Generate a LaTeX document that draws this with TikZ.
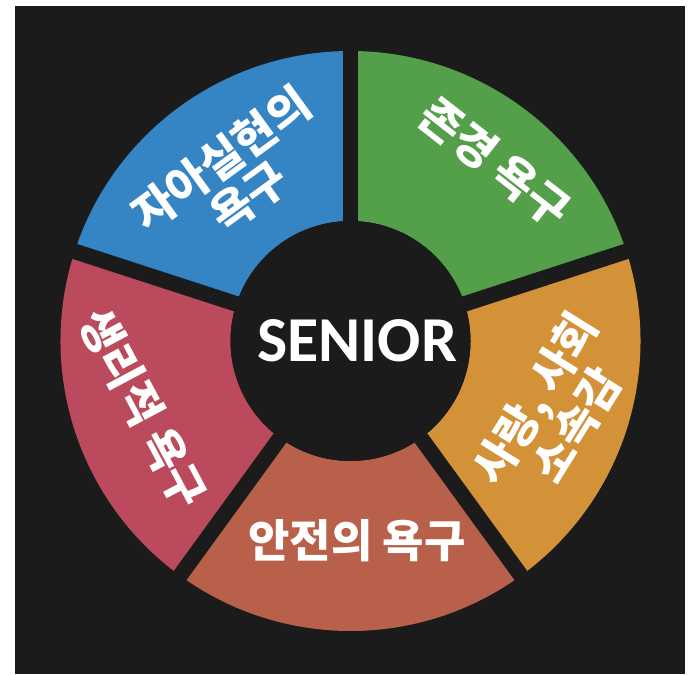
\documentclass[tikz,border=0pt]{standalone}
\usepackage{fontspec}
\newfontfamily\kofont{Noto Sans CJK KR}
\newfontfamily\latfont{Carlito}
\definecolor{fondo}{HTML}{1B1B1B}
\definecolor{segblue}{HTML}{3584C3}
\definecolor{seggreen}{HTML}{54A04A}
\definecolor{segorange}{HTML}{D39138}
\definecolor{segbrown}{HTML}{B8604A}
\definecolor{segred}{HTML}{BA4A5C}
\begin{document}
\begin{tikzpicture}
                            [x=1pt, y=1pt,
                            need/.style = {text=white,
                                        align=center,
                                        inner sep=0pt,
                                        font=\kofont\bfseries\fontsize{45}{47}\selectfont},
                            gap/.style = {draw=fondo,
                                        line width=15.6pt}]
                            \useasboundingbox (0,0) rectangle (690,674);
                            \fill[fondo] (15,0) rectangle (685,668);
                            \begin{scope}[shift={(350.5,333)}]
                                % Anillo
                                \foreach \a/\c in {90/segblue,18/seggreen,-54/segorange,-126/segbrown,162/segred}
                                    \fill[\c] (\a:290) arc[start angle=\a, delta angle=72, radius=290]
                                        -- ({\a+72}:120) arc[start angle=\a+72, delta angle=-72, radius=120] -- cycle;
                                % Separaciones
                                \coordinate (O) at (0,0);
                                \foreach \a in {90,18,-54,-126,162}
                                    \draw[gap] (O) -- (\a:300);
                                \fill[fondo] (O) circle (120);
                                % Centro
                                \node[text=white, font=\latfont\bfseries\fontsize{64}{64}\selectfont] (S) at (6.5,0) {SENIOR};
                                % Necesidades
                                \node[need, rotate=36] (auto) at (125.3:200) {자아실현의\\욕구};
                                \node[need, rotate=-38] (estima) at (51:230) {존경 욕구};
                                \node[need, rotate=58] (amor) at (-19:217) {사랑, 사회\\소속감};
                                \node[need] (seguridad) at (-88.1:200) {안전의 욕구};
                                \node[need, rotate=-62] (fisio) at (198:218) {생리적 욕구};
                            \end{scope}
                        \end{tikzpicture}
\end{document}
